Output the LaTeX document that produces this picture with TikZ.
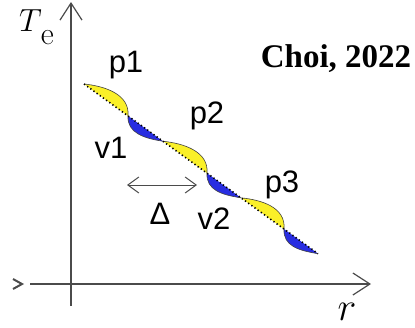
\RequirePackage{fix-cm}
\documentclass[tikz,border=0pt]{standalone}
\usepackage{fontspec}
\newfontfamily\labelfont{Liberation Sans}
\newfontfamily\citefont{Liberation Serif}
\usepackage{tikz}
\usetikzlibrary{arrows.meta, positioning, calc}

\definecolor{lensyellow}{RGB}{250,240,40}
\definecolor{lensblue}{RGB}{40,45,225}
\definecolor{axisgray}{RGB}{75,75,75}

\begin{document}
\begin{tikzpicture}[
    x=1pt, y=-1pt,
    axis/.style={draw=axisgray, line width=1.2pt, -{Straight Barb[length=17pt, width=22pt]}},
    span/.style={draw=axisgray, line width=1pt, {Straight Barb[length=11pt, width=16pt]}-{Straight Barb[length=11pt, width=16pt]}},
    peak/.style={fill=lensyellow},
    valley/.style={fill=lensblue},
    wave/.style={draw=black!75, line width=0.6pt},
    chord/.style={draw=black, line width=1.6pt, dash pattern=on 1.3pt off 2.6pt},
    tag/.style={font=\labelfont\fontsize{31}{31}\selectfont, inner sep=0pt, anchor=base}
]
    \useasboundingbox (0,0) rectangle (415,327);

    % axes
    \coordinate (yfoot) at (71,306);
    \coordinate (ytip) at (71,2);
    \coordinate (xfoot) at (30,284);
    \coordinate (xtip) at (371,284);
    \draw[axis] (yfoot) -- (ytip);
    \draw[axis] (xfoot) -- (xtip);
    \draw[axisgray, line width=2pt] (13,279) -- (22,284) -- (13,289);

    % crossing points of the profile
    \foreach \i/\x in {0/84, 1/128, 2/163, 3/207, 4/241, 5/284, 6/318}
        \coordinate (w\i) at (\x, {84+0.725*(\x-84)});

    % lenses
    \foreach \a/\b in {0/1, 2/3, 4/5}
        \path[peak] (w\a) .. controls +(20,2) and +(2,-22) .. (w\b) -- cycle;
    \foreach \a/\b in {1/2, 3/4, 5/6}
        \path[valley] (w\a) .. controls +(-1,17) and +(-19,-3) .. (w\b) -- cycle;
    \draw[wave] (w0) .. controls +(20,2) and +(2,-22) .. (w1)
        .. controls +(-1,17) and +(-19,-3) .. (w2)
        .. controls +(20,2) and +(2,-22) .. (w3)
        .. controls +(-1,17) and +(-19,-3) .. (w4)
        .. controls +(20,2) and +(2,-22) .. (w5)
        .. controls +(-1,17) and +(-19,-3) .. (w6);
    \draw[chord] (w0) -- (w6);

    % labels
    \node[tag] (p1) at (126,72) {p1};
    \node[tag] (v1) at (111,158) {v1};
    \node[tag] (p2) at (207,123) {p2};
    \node[tag] (v2) at (214,229) {v2};
    \node[tag] (p3) at (282,192) {p3};
    \node[tag] (delta) at (160,224) {Δ};
    \coordinate (dl) at (127,185);
    \coordinate (dr) at (197,185);
    \draw[span] (dl) -- (dr);

    \node[anchor=base west, inner sep=0pt, font=\fontsize{32}{32}\selectfont] (tlabel) at (19,31) {$T$\kern-1pt\raisebox{-0.42em}{e}};
    \node[anchor=base, inner sep=0pt, font=\fontsize{40}{40}\selectfont] (rlabel) at (347,320) {$r$};
    \node[anchor=base, inner sep=0pt, font=\citefont\bfseries\fontsize{33}{33}\selectfont] (cite) at (336,67) {Choi, 2022};
\end{tikzpicture}
\end{document}
